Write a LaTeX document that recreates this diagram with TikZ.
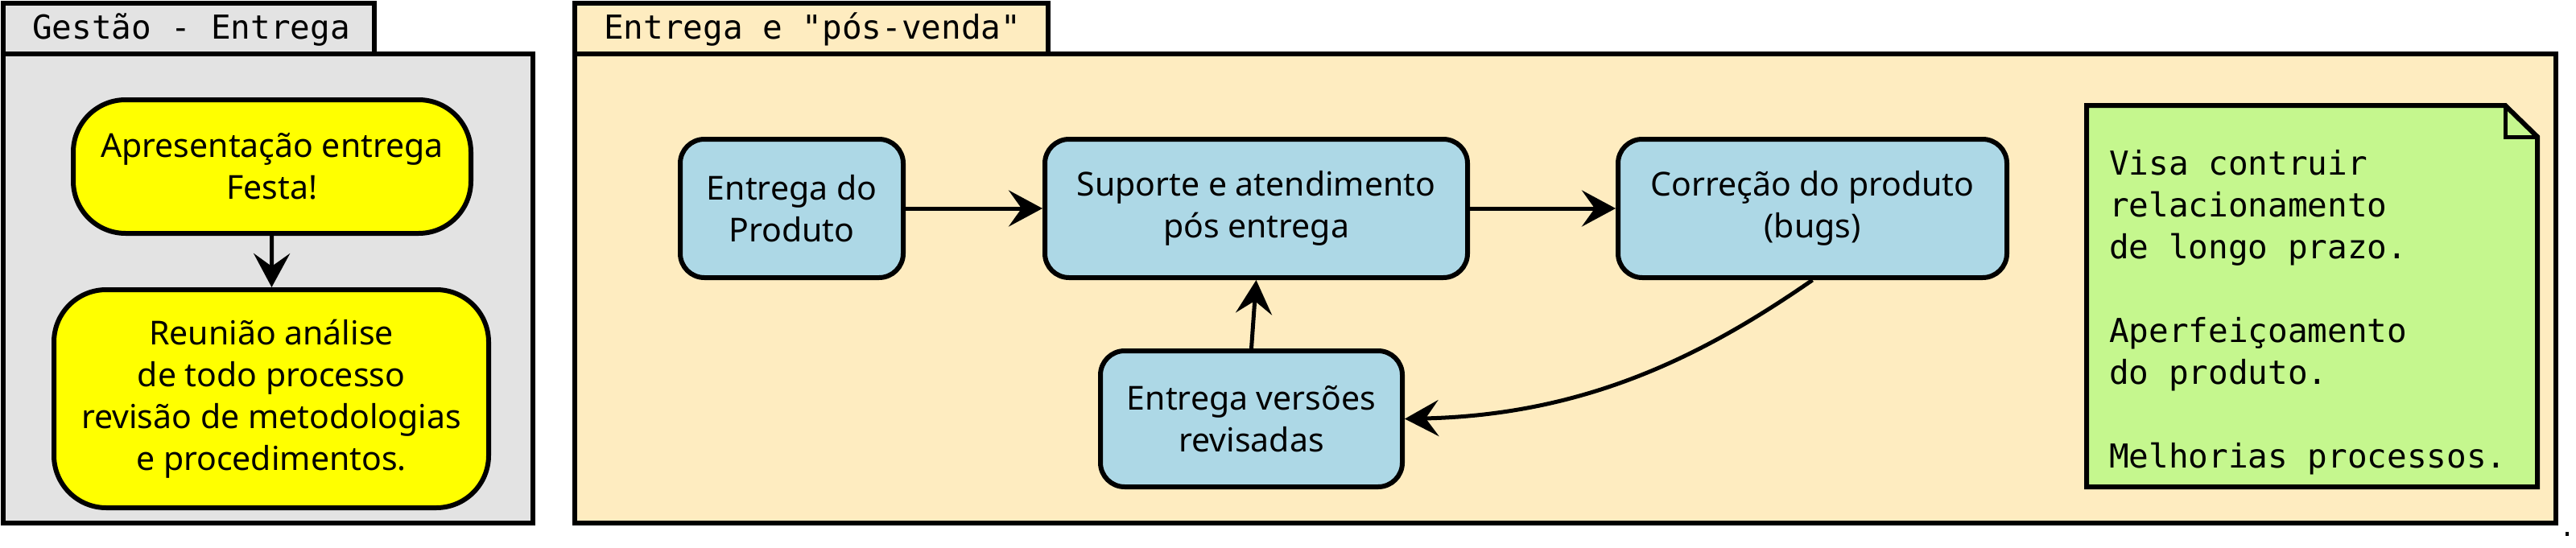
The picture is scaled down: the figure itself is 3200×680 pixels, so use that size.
\documentclass[tikz,border=0pt]{standalone}
\usepackage{fontspec}
\setmainfont{Noto Sans}
\setmonofont{DejaVu Sans Mono}
\usetikzlibrary{arrows.meta}
\definecolor{pkggray}{HTML}{E3E3E3}
\definecolor{pkgtan}{HTML}{FEECC0}
\definecolor{boxblue}{HTML}{ADD8E6}
\definecolor{notegreen}{HTML}{C5F78E}
\definecolor{boxyellow}{HTML}{FFFF00}
\begin{document}
\begin{tikzpicture}[x=1pt,y=-1pt,line width=6pt,
  pkgbox/.style={draw,line width=6.5pt},
  yellowbox/.style={draw,fill=boxyellow,line width=6pt,rounded corners=65pt,align=center,
    font=\fontsize{41}{52}\selectfont,inner sep=0pt},
  bluebox/.style={draw,fill=boxblue,line width=6pt,rounded corners=30pt,align=center,
    font=\fontsize{41}{52}\selectfont,inner sep=0pt},
  conn/.style={-{Stealth[length=42pt,width=45pt,inset=16pt]},line width=5pt},
  tabtext/.style={font=\ttfamily\fontsize{41}{52}\selectfont,anchor=base west,inner sep=0pt},
  notetext/.style={font=\ttfamily\fontsize{41}{52}\selectfont,anchor=west,align=left,inner sep=0pt}]
\useasboundingbox (0,0) rectangle (3200,680);

% left package
\filldraw[pkgbox,fill=pkggray] (4,4) rectangle (465,67);
\filldraw[pkgbox,fill=pkggray] (4,67) rectangle (662,650);
\node[tabtext] (tab1) at (37,48) {Gestão - Entrega};

\node[yellowbox,minimum width=494pt,minimum height=166pt] (apres) at (338,207)
  {Apresentação entrega\\Festa!};
\node[yellowbox,minimum width=540pt,minimum height=271pt] (reuniao) at (337,495.5)
  {Reunião análise\\de todo processo\\revisão de metodologias\\e procedimentos.};
\draw[conn] (apres) -- (reuniao);

% right package
\filldraw[pkgbox,fill=pkgtan] (714,4) rectangle (1302,67);
\filldraw[pkgbox,fill=pkgtan] (714,67) rectangle (3175,650);
\node[tabtext] (tab2) at (747,48) {Entrega e "pós-venda"};

\node[bluebox,minimum width=277pt,minimum height=172pt] (produto) at (983.5,259)
  {Entrega do\\Produto};
\node[bluebox,minimum width=525pt,minimum height=172pt] (suporte) at (1560.5,259)
  {Suporte e atendimento\\pós entrega};
\node[bluebox,minimum width=483pt,minimum height=172pt] (correcao) at (2251.5,259)
  {Correção do produto\\(bugs)};
\node[bluebox,minimum width=375pt,minimum height=169pt] (versoes) at (1554.5,520.5)
  {Entrega versões\\revisadas};

\draw[conn] (produto) -- (suporte);
\draw[conn] (suporte) -- (correcao);
\draw[conn] (correcao.south) .. controls +(-130,90) and +(230,-5) .. (versoes.east);
\draw[conn] (versoes.north) -- (suporte.south);

% note
\filldraw[fill=notegreen,line width=6pt] (2592,131) -- (3112,131) -- (3152,170)
  -- (3152,605) -- (2592,605) -- cycle;
\draw[line width=5pt] (3112,131) -- (3112,170) -- (3152,170);
\node[notetext] (note) at (2617,388)
  {Visa contruir\\relacionamento\\de longo prazo.\\[52pt]Aperfeiçoamento\\do produto.\\[52pt]Melhorias processos.};

\fill (3187,661) rectangle (3191,666);
\end{tikzpicture}
\end{document}
